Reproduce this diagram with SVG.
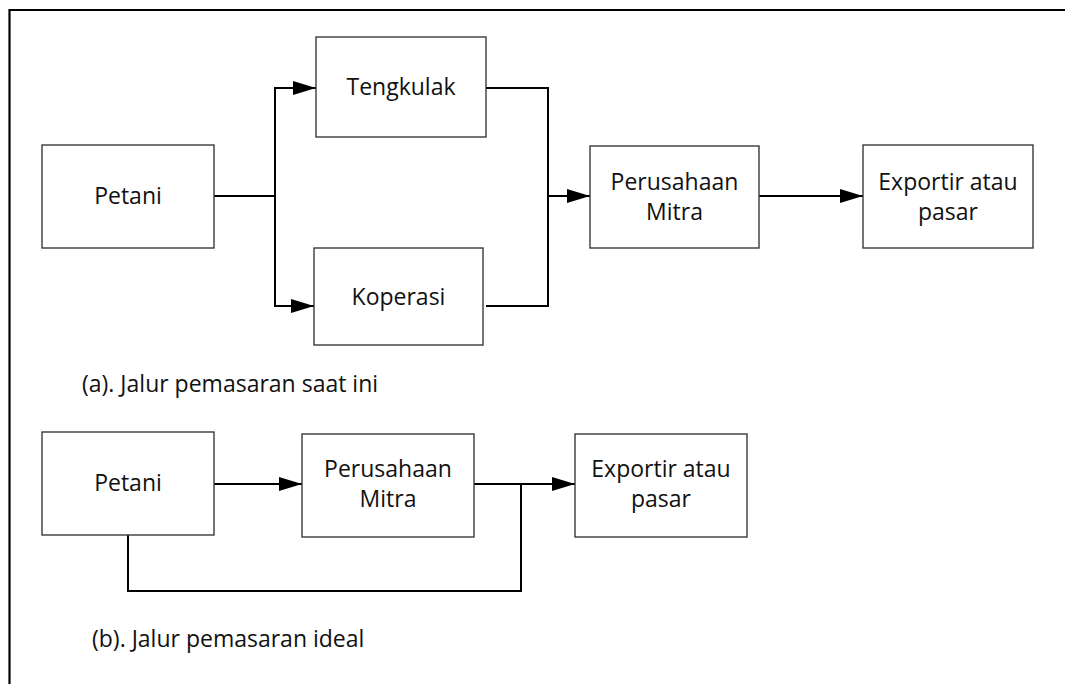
<svg xmlns="http://www.w3.org/2000/svg" width="1065" height="684" viewBox="0 0 1065 684">
  <style>
    .box { fill: #ffffff; stroke: #3a3a3a; stroke-width: 1.4; }
    .wire { fill: none; stroke: #000000; stroke-width: 2; }
    .frame { fill: none; stroke: #000000; stroke-width: 2.2; }
    text { font-family: "Open Sans", "Liberation Sans", sans-serif; font-size: 23px; fill: #111111; }
    .c { text-anchor: middle; }
  </style>
  <defs>
    <marker id="arrow" markerUnits="userSpaceOnUse" markerWidth="24" markerHeight="14" refX="23" refY="7" orient="auto">
      <path d="M0,0 L23,7 L0,14 Z" fill="#000000"/>
    </marker>
  </defs>

  <rect x="0" y="0" width="1065" height="684" fill="#ffffff"/>

  <!-- outer frame: top and left edges -->
  <path class="frame" d="M9.5,684 L9.5,10 L1065,10"/>

  <!-- connectors -->
  <g id="connectors">
    <!-- (a) current channel -->
    <path class="wire" d="M214,196 L275,196"/>
    <path class="wire" d="M275,306 L275,88 L316,88" marker-end="url(#arrow)"/>
    <path class="wire" d="M275,196 L275,306 L314,306" marker-end="url(#arrow)"/>
    <path class="wire" d="M486,88 L548,88 L548,306 L486,306"/>
    <path class="wire" d="M548,196 L590,196" marker-end="url(#arrow)"/>
    <path class="wire" d="M759,196 L863,196" marker-end="url(#arrow)"/>
    <!-- (b) ideal channel -->
    <path class="wire" d="M214,484 L302,484" marker-end="url(#arrow)"/>
    <path class="wire" d="M474,484 L575,484" marker-end="url(#arrow)"/>
    <path class="wire" d="M128,535 L128,591 L521,591 L521,484"/>
  </g>

  <!-- (a) nodes -->
  <g id="petani-a">
    <rect class="box" x="42" y="145" width="172" height="103"/>
    <text class="c" x="128" y="204">Petani</text>
  </g>
  <g id="tengkulak">
    <rect class="box" x="316" y="37" width="170" height="100"/>
    <text class="c" x="401" y="95">Tengkulak</text>
  </g>
  <g id="koperasi">
    <rect class="box" x="314" y="248" width="169" height="97"/>
    <text class="c" x="398.5" y="305">Koperasi</text>
  </g>
  <g id="perusahaan-a">
    <rect class="box" x="590" y="146" width="169" height="102"/>
    <text class="c" x="674.5" y="190">Perusahaan</text>
    <text class="c" x="674.5" y="220">Mitra</text>
  </g>
  <g id="exportir-a">
    <rect class="box" x="863" y="145" width="170" height="103"/>
    <text class="c" x="948" y="190">Exportir atau</text>
    <text class="c" x="948" y="220">pasar</text>
  </g>
  <text id="caption-a" x="82" y="392">(a). Jalur pemasaran saat ini</text>

  <!-- (b) nodes -->
  <g id="petani-b">
    <rect class="box" x="42" y="432" width="172" height="103"/>
    <text class="c" x="128" y="491">Petani</text>
  </g>
  <g id="perusahaan-b">
    <rect class="box" x="302" y="434" width="172" height="103"/>
    <text class="c" x="388" y="477">Perusahaan</text>
    <text class="c" x="388" y="507">Mitra</text>
  </g>
  <g id="exportir-b">
    <rect class="box" x="575" y="434" width="172" height="103"/>
    <text class="c" x="661" y="477">Exportir atau</text>
    <text class="c" x="661" y="507">pasar</text>
  </g>
  <text id="caption-b" x="92" y="647">(b). Jalur pemasaran ideal</text>
</svg>
